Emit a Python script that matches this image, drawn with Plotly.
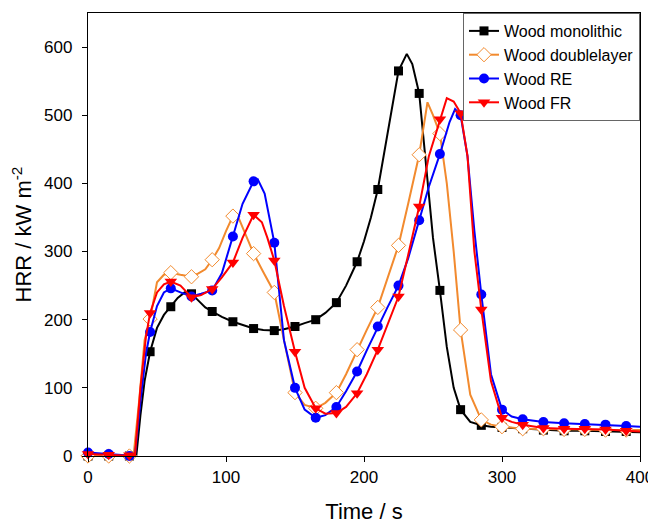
import plotly.graph_objects as go

# ---------------- data ----------------
mono_t = [0, 15, 30, 35, 38, 41, 45, 50, 55, 60, 65, 70, 75, 80, 85, 90, 97, 105, 112, 120, 127, 135,
          142, 150, 157, 165, 172, 180, 187, 195, 200, 205, 210, 215, 220, 225, 231, 235, 240, 245,
          250, 255, 260, 265, 270, 277, 285, 292, 300, 315, 330, 345, 360, 375, 390, 400]
mono_v = [0, 0, 0, 0, 60, 110, 153, 188, 207, 219, 232, 240, 238, 228, 218, 212, 204, 197, 192, 187, 185, 184,
          186, 190, 195, 200, 210, 225, 250, 285, 315, 350, 391, 450, 512, 565, 590, 575, 532, 420,
          320, 243, 160, 100, 68, 50, 45, 43, 42, 40, 38, 37, 37, 36, 36, 35]

dbl_t = [0, 15, 30, 33, 37, 41, 45, 50, 55, 60, 67, 75, 80, 85, 90, 95, 100, 105, 108, 113, 120, 127,
         135, 142, 150, 157, 165, 172, 180, 187, 195, 202, 210, 217, 225, 232, 240, 246, 250, 255,
         260, 265, 270, 277, 285, 292, 300, 315, 330, 345, 360, 375, 390, 400]
dbl_v = [0, 0, 0, 0, 80, 170, 201, 255, 266, 269, 266, 263, 268, 274, 288, 305, 330, 352, 355, 330, 297, 270,
         240, 170, 93, 75, 70, 78, 93, 120, 156, 185, 218, 260, 309, 370, 442, 519, 500, 473,
         400, 300, 185, 90, 53, 46, 43, 40, 40, 39, 39, 38, 38, 38]

re_t = [0, 15, 30, 34, 38, 42, 45, 50, 55, 60, 67, 75, 82, 90, 97, 105, 112, 120, 123, 128, 135, 142,
        150, 157, 165, 172, 180, 187, 195, 202, 210, 217, 225, 232, 240, 247, 255, 262, 266, 270,
        275, 280, 285, 292, 300, 307, 315, 330, 345, 360, 375, 390, 400]
re_v = [5, 3, 0, 0, 80, 150, 182, 220, 240, 246, 240, 234, 238, 243, 268, 322, 370, 403, 406, 385, 313, 170,
        100, 68, 56, 60, 72, 95, 124, 155, 190, 218, 250, 290, 346, 395, 443, 490, 509, 500,
        440, 330, 237, 120, 68, 58, 54, 50, 48, 47, 46, 44, 43]

fr_t = [0, 15, 30, 34, 38, 42, 45, 50, 55, 60, 67, 75, 82, 90, 97, 105, 112, 120, 126, 130, 135, 142,
        150, 157, 165, 172, 180, 187, 195, 202, 210, 217, 225, 232, 240, 247, 255, 260, 265, 270,
        275, 280, 285, 292, 300, 307, 315, 330, 345, 360, 375, 390, 400]
fr_v = [3, 2, 1, 0, 100, 175, 210, 240, 252, 256, 250, 233, 236, 245, 262, 284, 320, 354, 343, 320, 287, 220,
        153, 100, 70, 62, 63, 72, 92, 120, 156, 192, 234, 295, 366, 440, 494, 525, 520, 503,
        440, 300, 215, 110, 56, 50, 46, 41, 40, 40, 39, 37, 36]

names = ["Wood monolithic", "Wood doublelayer", "Wood RE", "Wood FR"]
x_ticks = [0, 100, 200, 300, 400]
y_ticks = [0, 100, 200, 300, 400, 500, 600]
marker_step = 15

# ---------------- styles ----------------
styles = [
    dict(color="#000000", symbol="square", size=9, fill="#000000", lw=0),
    dict(color="#F28A2E", symbol="diamond", size=11, fill="#FFFFFF", lw=1),
    dict(color="#0000FF", symbol="circle", size=10, fill="#0000FF", lw=0),
    dict(color="#FF0000", symbol="triangle-down", size=11, fill="#FF0000", lw=0),
]
series = [(mono_t, mono_v), (dbl_t, dbl_v), (re_t, re_v), (fr_t, fr_v)]

FONT = "Arial, Liberation Sans, sans-serif"
fig = go.Figure()
for (t, v), name, st in zip(series, names, styles):
    marker = dict(symbol=st["symbol"], size=st["size"], color=st["fill"],
                  line=dict(color=st["color"], width=st["lw"]))
    fig.add_trace(go.Scatter(x=t, y=v, mode="lines", line=dict(color=st["color"], width=2),
                             showlegend=False, legendgroup=name, cliponaxis=False, hoverinfo="skip"))
    mt = [a for a in t if a % marker_step == 0]
    mv = [b for a, b in zip(t, v) if a % marker_step == 0]
    fig.add_trace(go.Scatter(x=mt, y=mv, mode="markers", marker=marker,
                             showlegend=False, legendgroup=name, cliponaxis=False, name=name))
    fig.add_trace(go.Scatter(x=[None], y=[None], mode="lines+markers", name=name,
                             line=dict(color=st["color"], width=2), marker=marker,
                             legendgroup=name, showlegend=True))

axis_common = dict(showline=True, linecolor="#000000", linewidth=1.3, mirror=True,
                   ticks="outside", ticklen=5, tickwidth=1.2, tickcolor="#000000",
                   showgrid=False, zeroline=False, automargin=False,
                   tickfont=dict(family=FONT, size=17, color="#000000"))

# the page body adds an 8px offset, so the figure is 8px smaller than the window
fig.update_layout(
    width=648, height=516,
    margin=dict(l=80, r=16, t=5, b=68, autoexpand=False),
    paper_bgcolor="white", plot_bgcolor="white",
    font=dict(family=FONT, color="#000000"),
    xaxis=dict(range=[0, 400], tickvals=x_ticks,
               title=dict(text="Time / s", font=dict(family=FONT, size=22), standoff=18),
               **axis_common),
    yaxis=dict(range=[0, 650], tickvals=y_ticks,
               title=dict(text="HRR / kW m<sup>-2</sup>", font=dict(family=FONT, size=22), standoff=8),
               ticklabelstandoff=6,
               **axis_common),
    legend=dict(x=1, y=1, xanchor="right", yanchor="top", bgcolor="white",
                bordercolor="#666666", borderwidth=1,
                font=dict(family=FONT, size=16, color="#000000"),
                tracegroupgap=0, itemwidth=30),
)

fig.write_html("out.html")
